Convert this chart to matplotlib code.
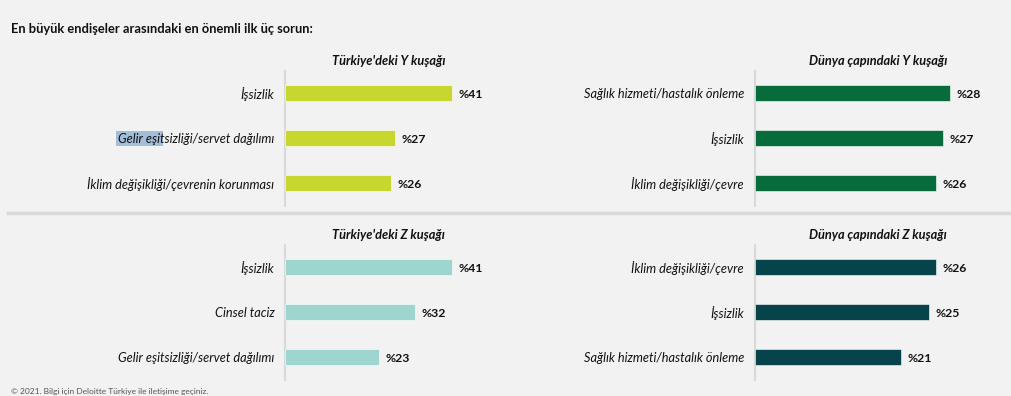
import matplotlib
matplotlib.use("Agg")
import matplotlib.pyplot as plt
from matplotlib.patches import Rectangle
from matplotlib.lines import Line2D

# --- data ---
title = "En büyük endişeler arasındaki en önemli ilk üç sorun:"
footer = "© 2021. Bilgi için Deloitte Türkiye ile iletişime geçiniz."

tr_y_labels = ["İşsizlik", "Gelir eşitsizliği/servet dağılımı", "İklim değişikliği/çevrenin korunması"]
tr_y_values = [41, 27, 26]

world_y_labels = ["Sağlık hizmeti/hastalık önleme", "İşsizlik", "İklim değişikliği/çevre"]
world_y_values = [28, 27, 26]

tr_z_labels = ["İşsizlik", "Cinsel taciz", "Gelir eşitsizliği/servet dağılımı"]
tr_z_values = [41, 32, 23]

world_z_labels = ["İklim değişikliği/çevre", "İşsizlik", "Sağlık hizmeti/hastalık önleme"]
world_z_values = [26, 25, 21]

panels = [
    ("Türkiye'deki Y kuşağı", tr_y_labels, tr_y_values, "#c8d72f", "top", "left"),
    ("Dünya çapındaki Y kuşağı", world_y_labels, world_y_values, "#076b3b", "top", "right"),
    ("Türkiye'deki Z kuşağı", tr_z_labels, tr_z_values, "#9dd5cf", "bottom", "left"),
    ("Dünya çapındaki Z kuşağı", world_z_labels, world_z_values, "#07434b", "bottom", "right"),
]

BG = "#f2f2f2"
FONT = ["Lato", "DejaVu Sans"]
W, H = 1012, 396

fig = plt.figure(figsize=(W / 100, H / 100), dpi=100, facecolor=BG)


def px_axes(x0, y0, x1, y1):
    # pixel box (top-left origin) -> figure axes
    return fig.add_axes([x0 / W, 1 - y1 / H, (x1 - x0) / W, (y1 - y0) / H])


# column geometry: axis x position, pixels per percent, title centre x
cols = {"left": (285.5, 4.05, 388.5), "right": (755.0, 6.96, 878.0)}
rows = {"top": (70.5, 205.5), "bottom": (244.5, 379.5)}

for name, labels, values, color, row, col in panels:
    x0, scale, tx = cols[col]
    y0, y1 = rows[row]
    x1 = x0 + 230
    ax = px_axes(x0, y0, x1, y1)
    ax.set_facecolor("none")
    ax.set_xlim(0, (x1 - x0) / scale)
    ax.set_ylim(2.5, -0.5)
    pos = list(range(len(values)))
    ax.barh(pos, values, height=0.34, color=color, edgecolor="#ffffff",
            linewidth=0.4, zorder=3)
    for p, v in zip(pos, values):
        ax.text(v + 6.5 / scale, p + 0.03, f"%{v}", va="center", ha="left",
                fontsize=8.8, fontweight="bold", family=FONT, color="#111111")
    ax.set_yticks(pos)
    ax.set_yticklabels(labels, fontsize=9.2, style="italic", family=FONT,
                       color="#111111")
    ax.tick_params(axis="y", length=0, pad=8)
    ax.set_xticks([])
    for s in ["top", "right", "bottom"]:
        ax.spines[s].set_visible(False)
    ax.spines["left"].set_color("#d9d9d9")
    ax.spines["left"].set_linewidth(1.5)
    ax.set_title(name, fontsize=9.2, fontweight="bold", style="italic",
                 family=FONT, color="#111111", x=(tx - x0) / 230, pad=4)

# main heading
fig.text(11 / W, 1 - 29 / H, title, fontsize=9.3, fontweight="bold",
         family=FONT, color="#111111", va="center", ha="left")

# divider between the Y and Z rows
fig.add_artist(Line2D([8 / W, 1], [1 - 213 / H] * 2, color="#d9d9d9",
                      linewidth=2.5, transform=fig.transFigure))

# selection highlight over part of a label
fig.add_artist(Rectangle((116 / W, 1 - 146 / H), 47 / W, 15 / H,
                         transform=fig.transFigure, facecolor="#a3bed8",
                         edgecolor="none", zorder=0))

# footer along the bottom edge
fig.text(11 / W, 1 - 395 / H, footer, fontsize=6, family=FONT,
         color="#555555", va="bottom", ha="left")

fig.savefig("out.png", dpi=100, facecolor=BG)
